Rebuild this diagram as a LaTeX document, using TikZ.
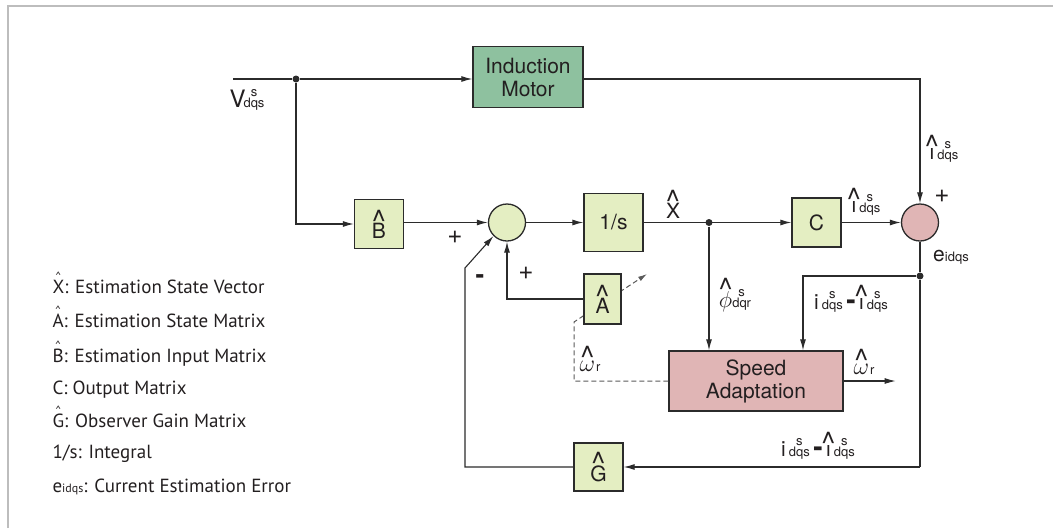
\documentclass[tikz,border=0pt]{standalone}
\usepackage{fix-cm}
\usepackage{fontspec}
\setmainfont{TeX Gyre Heros}
\newfontfamily\legfont{PT Sans}
\usetikzlibrary{arrows.meta}
\definecolor{txt}{HTML}{231F20}
\definecolor{ln}{HTML}{2B2B2B}
\definecolor{lg}{HTML}{E4EEC2}
\definecolor{mg}{HTML}{8EC19F}
\definecolor{pk}{HTML}{E0B5B5}
\definecolor{fr}{HTML}{BDBDBD}
\definecolor{dsh}{HTML}{5A5A5A}
% caret over a glyph
\newcommand\hatt[2][8.3pt]{{\setbox0\hbox{#2}\hbox to\wd0{\hss\raisebox{\dimexpr\ht0-#1\relax}{\fontsize{30}{30}\selectfont\textasciicircum}\hss}\kern-\wd0\box0}}
\newcommand\lhat[1]{{\setbox0\hbox{#1}\hbox to\wd0{\hss\raisebox{\dimexpr\ht0-1pt\relax}{\fontsize{12}{12}\selectfont\textasciicircum}\hss}\kern-\wd0\box0}}
% symbol with stacked super/subscript
\newcommand\sig[4][3pt]{#2\kern#1\vbox{\fontsize{13}{11}\selectfont\halign{\hfil##\hfil\cr #3\cr #4\cr}}}
\newcommand\mns{\,{\fontsize{28}{28}\selectfont\textbf{-}}\,}
\begin{document}
\begin{tikzpicture}[x=1pt,y=-1pt,line width=1.1pt,color=ln,
  >={Latex[length=11pt,width=6pt]},
  every node/.style={text=txt,font=\fontsize{21}{23}\selectfont},
  blk/.style={draw=ln,line width=1.3pt,fill=lg,inner sep=0pt},
  sumc/.style={circle,draw=ln,line width=1.3pt,inner sep=0pt,minimum size=37pt},
  lbl/.style={inner sep=0pt},
  sgn/.style={inner sep=0pt,font=\fontsize{26}{26}\selectfont},
  dot/.style={circle,fill=ln,inner sep=0pt,minimum size=7pt},
  leg/.style={anchor=base west,inner sep=0pt,font=\legfont\fontsize{19}{21}\selectfont}]
\useasboundingbox (0,0) rectangle (1053,528);
\draw[fr,line width=2pt] (8,528) -- (8,6) -- (1053,6);

% blocks
\node[blk,fill=mg,minimum width=110pt,minimum height=61pt,align=center] (motor) at (528,77) {Induction\\Motor};
\node[blk,minimum width=49pt,minimum height=49pt] (B) at (379,224) {\hatt{B}};
\node[sumc,fill=lg] (s1) at (507,222.5) {};
\node[blk,minimum width=59pt,minimum height=58pt] (I) at (613.5,222.5) {1/s};
\node[blk,minimum width=49pt,minimum height=49pt] (C) at (816.5,222.5) {C};
\node[sumc,fill=pk] (s2) at (920,222.5) {};
\node[blk,fill=pk,minimum width=174pt,minimum height=60pt,align=center] (SA) at (756,381) {Speed\\Adaptation};
\node[blk,minimum width=49pt,minimum height=48pt] (G) at (598.5,467) {\hatt{G}};

% junctions and corners
\coordinate (in) at (233,79);
\node[dot] (j1) at (296,79) {};
\node[dot] (jx) at (709,222.5) {};
\node[dot] (je) at (920,276) {};
\coordinate (mr) at (920,79);
\coordinate (gl) at (465,467);
\coordinate (gr) at (920,467);
\coordinate (gd) at (465,268);
\coordinate (ea) at (803,276);
\coordinate (al) at (507,299);
\coordinate (d1) at (574,381);
\coordinate (d2) at (574,322);
\coordinate (d3) at (647,274);

% dashed adaptation path (behind A)
\draw[dsh,line width=1pt,dash pattern=on 5pt off 3pt,-{Latex[length=9pt,width=5pt]}] (SA.west) -- (d1) -- (d2) -- (d3);
\node[blk,minimum width=37pt,minimum height=50pt] (A) at (602.5,299) {\hatt{A}};

% connectors
\draw[->] (in) -- (j1) -- (j1 -| motor.west);
\draw[->] (motor.east |- mr) -- (mr) -- (s2.north);
\draw[->] (j1) |- (B.west);
\draw[->] (B.east |- s1) -- (s1);
\draw[->] (s1) -- (I);
\draw[->] (I) -- (C);
\draw[->] (C) -- (s2);
\draw (s2) -- (je) -- (gr);
\draw[->] (gr) -- (G);
\draw[->] (G.west) -- (gl) -- (gd) -- (s1.225);
\draw[->] (je) -- (ea) -- (ea |- SA.north);
\draw[->] (jx) -- (jx |- SA.north);
\draw[->] (A.west) -- (al) -- (s1.south);
\draw[->] (SA.east) -- ++(52,0);

% labels
\node[lbl,font=\fontsize{24}{26}\selectfont] at (247,100) {\sig[-2pt]{V}{s}{dqs}};
\node[sgn] at (455,237) {+};
\node[sgn] at (480,279) {\textbf{-}};
\node[sgn] at (526,273) {+};
\node[lbl] at (673,204) {\hatt{X}};
\node[lbl] at (944,149) {\sig{\hatt{\i}}{s}{dqs}};
\node[lbl] at (866,202) {\sig{\hatt{\i}}{s}{dqs}};
\node[sgn] at (942,196) {+};
\node[lbl] at (951,257) {e{\fontsize{13}{13}\selectfont idqs}};
\node[lbl] at (735,295) {\sig[0pt]{\hatt{\fontsize{23}{23}\selectfont$\phi$}}{s}{dqr}};
\node[lbl] at (851,299) {\sig{i}{s}{dqs}\mns\sig{\hatt{\i}}{s}{dqs}};
\node[lbl] at (818,446) {\sig{i}{s}{dqs}\mns\sig{\hatt{\i}}{s}{dqs}};
\node[lbl] at (864,362) {\hatt[7pt]{\fontsize{24}{24}\selectfont$\omega$}\kern1pt{\fontsize{13}{13}\selectfont r}};
\node[lbl] at (590,359) {\hatt[7pt]{\fontsize{24}{24}\selectfont$\omega$}\kern1pt{\fontsize{13}{13}\selectfont r}};

% legend
\node[leg] (l1) at (52,293) {\lhat{X}: Estimation State Vector};
\node[leg] (l2) at (52,327) {\lhat{A}: Estimation State Matrix};
\node[leg] (l3) at (52,362) {\lhat{B}: Estimation Input Matrix};
\node[leg] (l4) at (52,394) {C: Output Matrix};
\node[leg] (l5) at (52,427) {\lhat{G}: Observer Gain Matrix};
\node[leg] (l6) at (52,458) {1/s: Integral};
\node[leg] (l7) at (52,492) {e{\fontsize{12}{12}\selectfont idqs}: Current Estimation Error};
\end{tikzpicture}
\end{document}
